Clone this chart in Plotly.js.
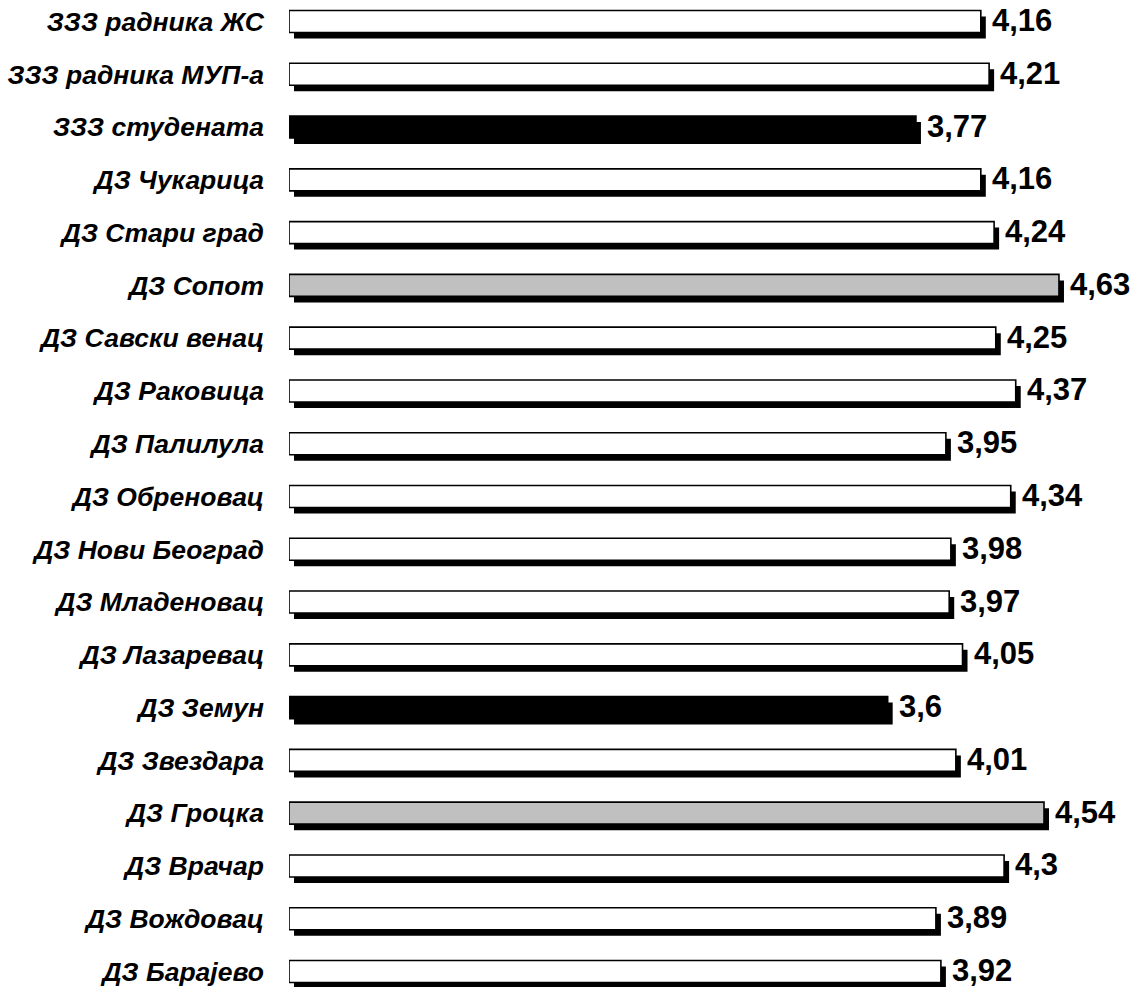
<!DOCTYPE html>
<html>
<head>
<meta charset="utf-8">
<script src="https://cdn.plot.ly/plotly-3.0.1.min.js"></script>
<style>html,body{margin:0;padding:0;background:#fff;}</style>
</head>
<body>
<div id="chart" style="width:1139px;height:987px;"></div>
<script>
const categories = [
  "ЗЗЗ радника ЖС", "ЗЗЗ радника МУП-а", "ЗЗЗ студената", "ДЗ Чукарица",
  "ДЗ Стари град", "ДЗ Сопот", "ДЗ Савски венац", "ДЗ Раковица",
  "ДЗ Палилула", "ДЗ Обреновац", "ДЗ Нови Београд", "ДЗ Младеновац",
  "ДЗ Лазаревац", "ДЗ Земун", "ДЗ Звездара", "ДЗ Гроцка",
  "ДЗ Врачар", "ДЗ Вождовац", "ДЗ Барајево"
];
const values = [4.16, 4.21, 3.77, 4.16, 4.24, 4.63, 4.25, 4.37, 3.95, 4.34, 3.98, 3.97, 4.05, 3.6, 4.01, 4.54, 4.3, 3.89, 3.92];
const fillGroup = ["w","w","b","w","w","g","w","w","w","w","w","w","w","b","w","g","w","w","w"];
const palette = {w: "#ffffff", g: "#c0c0c0", b: "#000000"};

const pxPerUnit = 166.3;
const shadowDx = 5 / pxPerUnit;
const rowPx = 52.78;
const barW = 22 / rowPx;
const shadowDy = 6 / rowPx;

const idx = categories.map((c, i) => i);

const shadow = {
  type: "bar", orientation: "h",
  y: idx, x: values, base: shadowDx,
  width: barW, offset: -barW / 2 + shadowDy,
  marker: {color: "#000000", line: {width: 0}},
  hoverinfo: "skip", showlegend: false
};
const main = {
  type: "bar", orientation: "h",
  y: idx, x: values,
  width: barW, offset: -barW / 2,
  marker: {color: fillGroup.map(g => palette[g]), line: {color: "#000000", width: 1.6}},
  showlegend: false
};

const annotations = values.map((v, i) => ({
  x: v, y: i, xref: "x", yref: "y",
  text: String(v).replace(".", ","),
  showarrow: false, xanchor: "left", yanchor: "middle",
  xshift: 9, yshift: 1,
  font: {family: "Liberation Sans, Arial, sans-serif", size: 31, color: "#000", weight: "bold"}
}));

const layout = {
  width: 1139, height: 987,
  margin: {l: 289, r: 0, t: 0, b: 0},
  paper_bgcolor: "#ffffff", plot_bgcolor: "#ffffff",
  barmode: "overlay",
  xaxis: {range: [0, 850 / pxPerUnit], visible: false, fixedrange: true},
  yaxis: {
    range: [18 + (987 - 971.5) / rowPx, -21.5 / rowPx],
    tickmode: "array", tickvals: idx,
    ticktext: categories.map(c => "<b><i>" + c + "</i></b>"),
    showgrid: false, zeroline: false, showline: false, ticks: "",
    ticklabelstandoff: 24,
    tickfont: {family: "Liberation Sans, Arial, sans-serif", size: 26.5, color: "#000"}
  },
  annotations: annotations
};

Plotly.newPlot("chart", [shadow, main], layout, {staticPlot: true, displayModeBar: false});
</script>
</body>
</html>
